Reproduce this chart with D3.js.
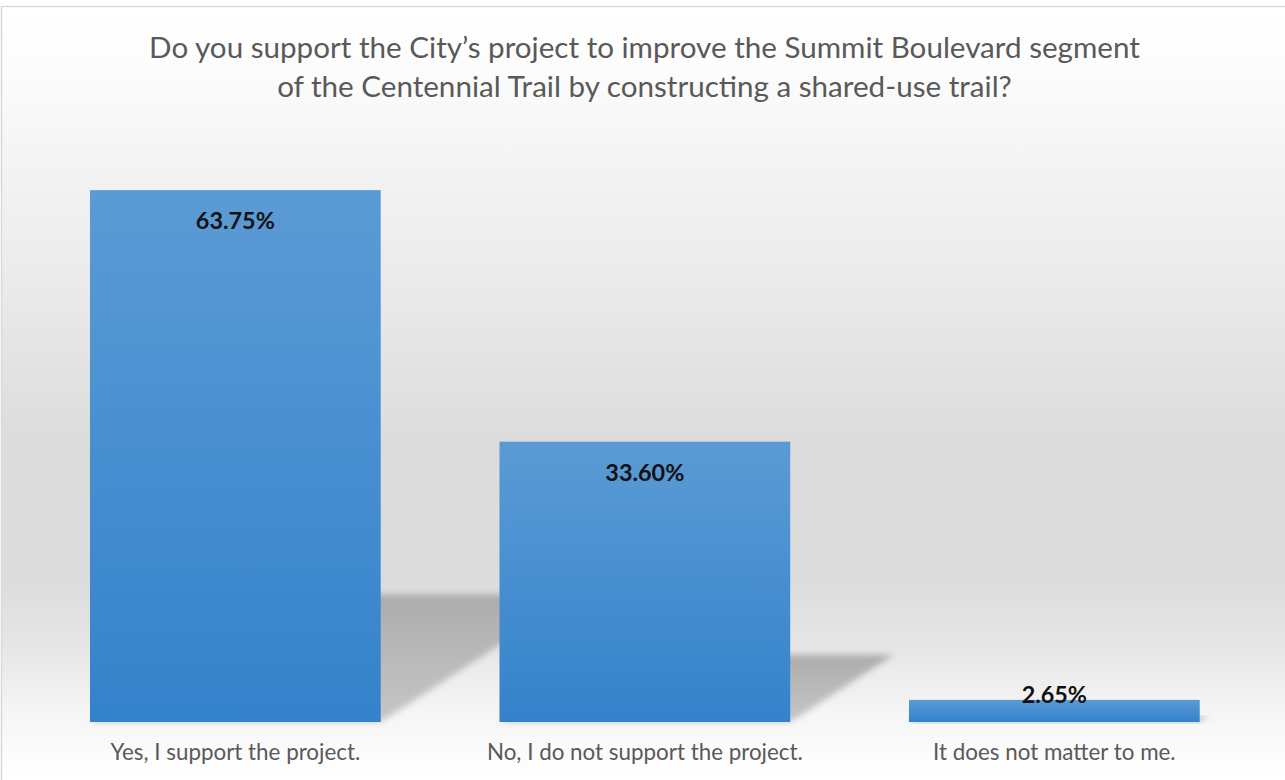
<!DOCTYPE html>
<html>
<head>
<meta charset="utf-8">
<script src="https://cdn.jsdelivr.net/npm/d3@7"></script>
<style>
  html, body { margin: 0; padding: 0; background: #ffffff; }
  svg { display: block; }
</style>
</head>
<body>
<script>
// Survey data
const categories = [
  "Yes, I support the project.",
  "No, I do not support the project.",
  "It does not matter to me."
];
const percentages = [63.75, 33.60, 2.65];
const titleLines = [
  "Do you support the City\u2019s project to improve the Summit Boulevard segment",
  "of the Centennial Trail by constructing a shared-use trail?"
];

const WIDTH = 1285;
const HEIGHT = 780;
const FONT = "Lato, 'Open Sans', sans-serif";

const svg = d3.select("body").append("svg")
  .attr("width", WIDTH)
  .attr("height", HEIGHT);

const defs = svg.append("defs");

// chart area background (white -> gray band -> white)
const bg = defs.append("linearGradient")
  .attr("id", "bgGrad")
  .attr("gradientUnits", "userSpaceOnUse")
  .attr("x1", 0).attr("y1", 7).attr("x2", 0).attr("y2", 780);
[[7, "#ffffff"], [70, "#fcfcfc"], [150, "#f5f5f5"], [300, "#e9e9e9"],
 [440, "#dcdcdc"], [580, "#dcdcdc"], [650, "#e7e7e7"], [722, "#f7f7f7"], [780, "#ffffff"]]
  .forEach(function(s) {
    bg.append("stop")
      .attr("offset", ((s[0] - 7) / (780 - 7)))
      .attr("stop-color", s[1]);
  });

const barGrad = defs.append("linearGradient")
  .attr("id", "barGrad")
  .attr("x1", 0).attr("y1", 0).attr("x2", 0).attr("y2", 1);
barGrad.append("stop").attr("offset", 0).attr("stop-color", "#5b9bd5");
barGrad.append("stop").attr("offset", 1).attr("stop-color", "#3482cb");

const shGrad = defs.append("linearGradient")
  .attr("id", "shadowGrad")
  .attr("x1", 0).attr("y1", 0).attr("x2", 0).attr("y2", 1);
shGrad.append("stop").attr("offset", 0).attr("stop-color", "#acacac");
shGrad.append("stop").attr("offset", 1).attr("stop-color", "#c6c6c6");

defs.append("filter")
  .attr("id", "blur")
  .attr("x", "-20%").attr("y", "-20%").attr("width", "140%").attr("height", "140%")
  .append("feGaussianBlur")
  .attr("stdDeviation", 3);

// chart frame
svg.append("rect")
  .attr("x", 1.5).attr("y", 6.5)
  .attr("width", WIDTH + 10).attr("height", HEIGHT + 10)
  .attr("fill", "url(#bgGrad)")
  .attr("stroke", "#d9d9d9")
  .attr("stroke-width", 1.5);

// Scales
const x = d3.scaleBand()
  .domain(categories)
  .range([30.6, 1259.1])
  .paddingInner(0.29)
  .paddingOuter(0.145);

const y = d3.scaleLinear()
  .domain([0, 70])
  .range([722, 138]);

const data = categories.map(function(c, i) { return {cat: c, value: percentages[i]}; });

// perspective shadows behind the bars
svg.append("g").selectAll("path.shadow")
  .data(data)
  .enter().append("path")
  .attr("class", "shadow")
  .attr("d", function(d) {
    const x0 = x(d.cat), x1 = x0 + x.bandwidth();
    const b = y(0), h = y(0) - y(d.value);
    const sh = h * 0.24, dx = h * 0.37;
    return "M" + x0 + "," + b + "L" + x1 + "," + b +
      "L" + (x1 + dx) + "," + (b - sh) + "L" + (x0 + dx) + "," + (b - sh) + "Z";
  })
  .attr("fill", "url(#shadowGrad)")
  .attr("filter", "url(#blur)");

// Bars
svg.append("g").selectAll("rect.bar")
  .data(data)
  .enter().append("rect")
  .attr("class", "bar")
  .attr("x", function(d) { return x(d.cat); })
  .attr("y", function(d) { return y(d.value); })
  .attr("width", x.bandwidth())
  .attr("height", function(d) { return y(0) - y(d.value); })
  .attr("fill", "url(#barGrad)");

// fit a group of texts so the first one gets the target width
function fitGroup(sel, target) {
  const first = sel.node();
  const w = first.getComputedTextLength();
  const fs = parseFloat(d3.select(first).attr("font-size"));
  sel.attr("font-size", fs * target / w);
}

// Value labels
const fmt = d3.format(".2f");
const vlabels = svg.append("g").selectAll("text.value")
  .data(data)
  .enter().append("text")
  .attr("class", "value")
  .attr("x", function(d) { return x(d.cat) + x.bandwidth() / 2; })
  .attr("y", function(d) { return Math.min(y(d.value) + 39, y(0) - 19); })
  .attr("text-anchor", "middle")
  .attr("font-family", FONT)
  .attr("font-weight", "bold")
  .attr("font-size", 20)
  .attr("fill", "#111111")
  .text(function(d) { return fmt(d.value) + "%"; });
fitGroup(vlabels, 79);

// Category axis labels
const xAxis = d3.axisBottom(x).tickSize(0).tickPadding(0);
const gx = svg.append("g")
  .attr("transform", "translate(0,760)")
  .call(xAxis);
gx.select(".domain").remove();
const cl = gx.selectAll(".tick text")
  .attr("y", 0)
  .attr("dy", 0)
  .attr("font-family", FONT)
  .attr("font-size", 18)
  .attr("fill", "#595959");
fitGroup(cl, 250);

// Title
const tl = svg.append("g").selectAll("text.title")
  .data(titleLines)
  .enter().append("text")
  .attr("class", "title")
  .attr("x", 644.5)
  .attr("y", function(d, i) { return 58 + i * 39; })
  .attr("text-anchor", "middle")
  .attr("font-family", FONT)
  .attr("font-size", 26)
  .attr("fill", "#595959")
  .text(function(d) { return d; });
fitGroup(tl, 991);
</script>
</body>
</html>
